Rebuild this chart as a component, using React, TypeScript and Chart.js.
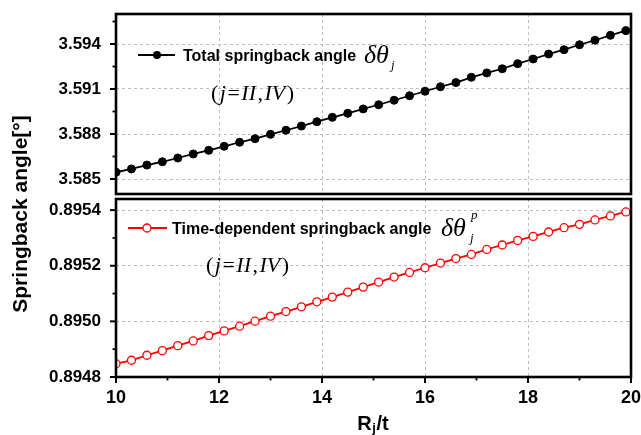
import React, { useEffect, useRef } from "react";
import { Chart, registerables } from "chart.js";

Chart.register(...registerables);

// ---------- data ----------
const ratioRt = [10, 10.3, 10.6, 10.9, 11.2, 11.5, 11.8, 12.1, 12.4, 12.7, 13, 13.3, 13.6, 13.9, 14.2, 14.5, 14.8, 15.1, 15.4, 15.7, 16, 16.3, 16.6, 16.9, 17.2, 17.5, 17.8, 18.1, 18.4, 18.7, 19, 19.3, 19.6, 19.9];

const totalAngle = [3.58545, 3.58567, 3.58593, 3.58615, 3.5864, 3.58667, 3.58691, 3.58718, 3.58745, 3.58769, 3.58798, 3.58825, 3.58853, 3.58882, 3.58911, 3.58938, 3.58967, 3.58995, 3.59025, 3.59055, 3.59085, 3.59115, 3.59143, 3.59178, 3.59207, 3.59235, 3.59269, 3.593, 3.59333, 3.59362, 3.59395, 3.59425, 3.59458, 3.59489];

const timeDepAngle = [0.8948479, 0.8948602, 0.8948782, 0.8948948, 0.8949128, 0.8949297, 0.8949488, 0.8949658, 0.8949827, 0.8950007, 0.8950187, 0.8950353, 0.8950523, 0.8950703, 0.8950872, 0.8951052, 0.8951232, 0.8951413, 0.8951593, 0.8951759, 0.8951928, 0.8952097, 0.8952259, 0.8952407, 0.8952587, 0.8952746, 0.8952912, 0.8953056, 0.8953214, 0.8953369, 0.8953488, 0.8953647, 0.8953791, 0.8953935];

const topTickValues = [3.585, 3.588, 3.591, 3.594];
const topTickLabels = ["3.585", "3.588", "3.591", "3.594"];
const bottomTickValues = [0.8948, 0.895, 0.8952, 0.8954];
const bottomTickLabels = ["0.8948", "0.8950", "0.8952", "0.8954"];
const xTickValues = [10, 12, 14, 16, 18, 20];
const xTickLabels = ["10", "12", "14", "16", "18", "20"];

const topLegend = "Total springback angle";
const bottomLegend = "Time-dependent springback angle";
const yTitle = "Springback angle[°]";

// ---------- style ----------
const SANS = "Arial, 'Liberation Sans', Helvetica, sans-serif";
const SERIF = "'Times New Roman', 'Liberation Serif', serif";
const W = 641;
const H = 435;
const GRID = "#bdbdbd";

function minorOf(major: number[], min: number, max: number) {
  const step = major[1] - major[0];
  const out: number[] = [];
  for (let k = -1; k < major.length; k++) {
    const v = major[0] + step * (k + 0.5);
    if (v > min && v < max) out.push(v);
  }
  return out;
}

function seg(ctx: CanvasRenderingContext2D, x1: number, y1: number, x2: number, y2: number) {
  ctx.beginPath();
  ctx.moveTo(x1, y1);
  ctx.lineTo(x2, y2);
  ctx.stroke();
}

function framePlugin(yMajor: number[], yMin: number, yMax: number, xTicks: boolean) {
  return {
    id: "frame",
    afterDatasetsDraw(chart: any) {
      const { ctx, chartArea: a, scales } = chart;
      const y = scales.y;
      const x = scales.x;
      ctx.save();
      ctx.strokeStyle = "#000";
      ctx.lineWidth = 2;
      for (const v of yMajor) {
        const p = y.getPixelForValue(v);
        seg(ctx, a.left - 6, p, a.left, p);
      }
      ctx.lineWidth = 1.8;
      for (const v of minorOf(yMajor, yMin, yMax)) {
        const p = y.getPixelForValue(v);
        seg(ctx, a.left - 3.5, p, a.left, p);
      }
      if (xTicks) {
        ctx.lineWidth = 2;
        for (const v of xTickValues) {
          const p = x.getPixelForValue(v);
          seg(ctx, p, a.bottom, p, a.bottom + 6);
        }
        ctx.lineWidth = 1.8;
        for (const v of minorOf(xTickValues, 10, 20)) {
          const p = x.getPixelForValue(v);
          seg(ctx, p, a.bottom, p, a.bottom + 3.5);
        }
      }
      ctx.lineWidth = 2.6;
      ctx.strokeRect(a.left, a.top, a.right - a.left, a.bottom - a.top);
      ctx.restore();
    },
  };
}

function drawCondition(ctx: CanvasRenderingContext2D, x: number, baseline: number, size: number) {
  const parts: [string, boolean][] = [
    ["(", false],
    ["j", true],
    ["=", false],
    ["II", true],
    [",", false],
    ["IV", true],
    [")", false],
  ];
  let cx = x;
  for (const [t, it] of parts) {
    ctx.font = `${it ? "italic " : ""}${size}px ${SERIF}`;
    ctx.fillText(t, cx, baseline);
    cx += ctx.measureText(t).width + 1.5;
  }
}

const topLegendPlugin = {
  id: "topLegend",
  afterDraw(chart: any) {
    const ctx: CanvasRenderingContext2D = chart.ctx;
    ctx.save();
    ctx.strokeStyle = "#000";
    ctx.fillStyle = "#000";
    ctx.lineWidth = 2;
    seg(ctx, 138, 55, 175, 55);
    ctx.beginPath();
    ctx.arc(157, 55, 4, 0, Math.PI * 2);
    ctx.fill();
    ctx.textBaseline = "alphabetic";
    ctx.textAlign = "left";
    ctx.font = `bold 16px ${SANS}`;
    ctx.fillText(topLegend, 183, 61);
    ctx.font = `italic 26px ${SERIF}`;
    ctx.fillText("δθ", 364, 63);
    ctx.font = `italic 13px ${SERIF}`;
    ctx.fillText("j", 391, 69);
    drawCondition(ctx, 211, 100, 22);
    ctx.restore();
  },
};

const bottomLegendPlugin = {
  id: "bottomLegend",
  afterDraw(chart: any) {
    const ctx: CanvasRenderingContext2D = chart.ctx;
    ctx.save();
    ctx.strokeStyle = "#ff0000";
    ctx.fillStyle = "#ffffff";
    ctx.lineWidth = 2;
    seg(ctx, 128, 228, 167, 228);
    ctx.beginPath();
    ctx.arc(147, 228, 4, 0, Math.PI * 2);
    ctx.fill();
    ctx.lineWidth = 1.3;
    ctx.stroke();
    ctx.fillStyle = "#000";
    ctx.textBaseline = "alphabetic";
    ctx.textAlign = "left";
    ctx.font = `bold 16px ${SANS}`;
    ctx.fillText(bottomLegend, 172, 234);
    ctx.font = `italic 26px ${SERIF}`;
    ctx.fillText("δθ", 441, 236);
    ctx.font = `italic 13px ${SERIF}`;
    ctx.fillText("p", 471, 219);
    ctx.fillText("j", 470, 242);
    drawCondition(ctx, 206, 272, 22);

    // axis titles
    ctx.save();
    ctx.translate(27, 214);
    ctx.rotate(-Math.PI / 2);
    ctx.textAlign = "center";
    ctx.font = `bold 21px ${SANS}`;
    ctx.fillText(yTitle, 0, 0);
    ctx.restore();

    ctx.font = `bold 20px ${SANS}`;
    const wR = ctx.measureText("R").width;
    const wT = ctx.measureText("/t").width;
    ctx.font = `bold 13px ${SANS}`;
    const wJ = ctx.measureText("j").width;
    const total = wR + wJ + wT + 1;
    let cx = 373 - total / 2;
    ctx.font = `bold 20px ${SANS}`;
    ctx.fillText("R", cx, 430);
    cx += wR + 0.5;
    ctx.font = `bold 13px ${SANS}`;
    ctx.fillText("j", cx, 432);
    cx += wJ + 0.5;
    ctx.font = `bold 20px ${SANS}`;
    ctx.fillText("/t", cx, 430);
    ctx.restore();
  },
};

function xScale(showLabels: boolean) {
  return {
    type: "linear",
    min: 10,
    max: 20,
    afterBuildTicks: (s: any) => {
      s.ticks = xTickValues.map((v) => ({ value: v }));
    },
    afterFit: (s: any) => {
      s.height = showLabels ? H - 377 : 0;
      s.paddingLeft = 0;
      s.paddingRight = 0;
    },
    ticks: {
      display: showLabels,
      padding: 10,
      color: "#000",
      font: { family: SANS, size: 18, weight: "bold" },
      callback: (_v: any, i: number) => xTickLabels[i],
    },
    grid: { display: true, drawTicks: false, color: GRID, lineWidth: 1, borderDash: [3, 3] },
    border: { display: false, dash: [3, 3] },
  };
}

function yScale(min: number, max: number, values: number[], labels: string[]) {
  return {
    type: "linear",
    min,
    max,
    afterBuildTicks: (s: any) => {
      s.ticks = values.map((v) => ({ value: v }));
    },
    afterFit: (s: any) => {
      s.width = 116;
      s.paddingTop = 0;
      s.paddingBottom = 0;
    },
    ticks: {
      padding: 15,
      color: "#000",
      font: { family: SANS, size: 17, weight: "bold" },
      callback: (_v: any, i: number) => labels[i],
    },
    grid: { display: true, drawTicks: false, color: GRID, lineWidth: 1, borderDash: [3, 3] },
    border: { display: false, dash: [3, 3] },
  };
}

export default function App() {
  const topRef = useRef<HTMLCanvasElement>(null);
  const botRef = useRef<HTMLCanvasElement>(null);

  useEffect(() => {
    const topMin = 3.584;
    const topMax = 3.596;
    const botMin = 0.8948;
    const botMax = 0.89544;

    const top = new Chart(topRef.current as HTMLCanvasElement, {
      type: "line",
      data: {
        datasets: [
          {
            label: topLegend,
            data: ratioRt.map((x, i) => ({ x, y: totalAngle[i] })),
            borderColor: "#000",
            backgroundColor: "#000",
            borderWidth: 1.8,
            pointRadius: 4,
            pointBackgroundColor: "#000",
            pointBorderColor: "#000",
            pointBorderWidth: 1,
            tension: 0,
            clip: 0,
          } as any,
        ],
      },
      options: {
        animation: false,
        responsive: false,
        devicePixelRatio: 1,
        layout: { padding: { top: 14, right: 10, bottom: H - 194, left: 0 } },
        plugins: { legend: { display: false }, tooltip: { enabled: false } },
        scales: {
          x: xScale(false) as any,
          y: yScale(topMin, topMax, topTickValues, topTickLabels) as any,
        },
      },
      plugins: [framePlugin(topTickValues, topMin, topMax, false), topLegendPlugin],
    });

    const bot = new Chart(botRef.current as HTMLCanvasElement, {
      type: "line",
      data: {
        datasets: [
          {
            label: bottomLegend,
            data: ratioRt.map((x, i) => ({ x, y: timeDepAngle[i] })),
            borderColor: "#ff0000",
            backgroundColor: "#ffffff",
            borderWidth: 1.8,
            pointRadius: 4,
            pointBackgroundColor: "#ffffff",
            pointBorderColor: "#ff0000",
            pointBorderWidth: 1.3,
            tension: 0,
            clip: 0,
          } as any,
        ],
      },
      options: {
        animation: false,
        responsive: false,
        devicePixelRatio: 1,
        layout: { padding: { top: 199, right: 10, bottom: 0, left: 0 } },
        plugins: { legend: { display: false }, tooltip: { enabled: false } },
        scales: {
          x: xScale(true) as any,
          y: yScale(botMin, botMax, bottomTickValues, bottomTickLabels) as any,
        },
      },
      plugins: [framePlugin(bottomTickValues, botMin, botMax, true), bottomLegendPlugin],
    });

    return () => {
      top.destroy();
      bot.destroy();
    };
  }, []);

  const cs: React.CSSProperties = { position: "absolute", left: 0, top: 0, width: W, height: H };
  return (
    <div style={{ position: "fixed", left: 0, top: 0, width: W, height: H, background: "#fff" }}>
      <canvas ref={botRef} width={W} height={H} style={cs} />
      <canvas ref={topRef} width={W} height={H} style={cs} />
    </div>
  );
}
